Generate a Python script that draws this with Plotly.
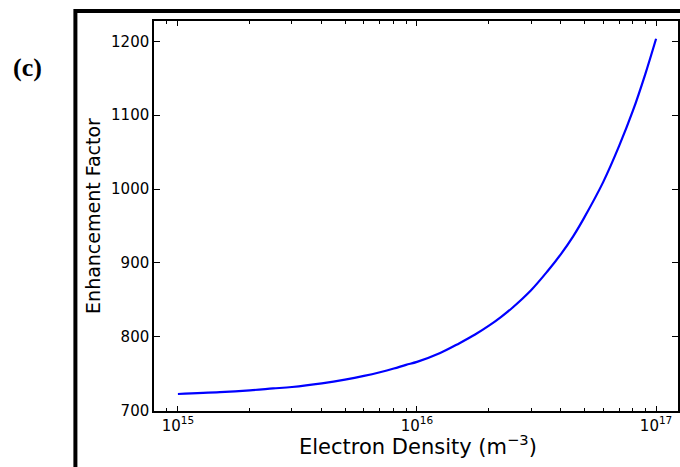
import plotly.graph_objects as go

# Data
electron_density = [1e15, 1.5e15, 2e15, 2.5e15, 3e15, 4e15, 5e15, 6e15, 7e15, 8e15, 9e15,
                    1e16, 1.25e16, 1.5e16, 1.75e16, 2e16, 2.25e16, 2.5e16, 3e16, 3.5e16,
                    4e16, 4.5e16, 5e16, 6e16, 7e16, 8e16, 9e16, 1e17]
enhancement = [722.5, 725, 727.5, 730, 732, 737, 742, 747, 752, 757, 762,
               766, 778, 791, 803, 815, 827, 839, 863, 888,
               912, 936, 961, 1009, 1058, 1106, 1155, 1203.5]

x_tickvals = [1e15, 1e16, 1e17]
x_ticktext = ["10<sup>15</sup>", "10<sup>16</sup>", "10<sup>17</sup>"]
x_minor = [m * 10 ** e for e in (14, 15, 16) for m in range(2, 10)]
y_tickvals = [700, 800, 900, 1000, 1100, 1200]
x_title = "Electron Density (m<sup>\u22123</sup>)"
y_title = "Enhancement Factor"
panel_label = "<b>(c)</b>"

fig = go.Figure()
fig.add_trace(go.Scatter(
    x=electron_density, y=enhancement, mode="lines",
    line=dict(color="#0000ff", width=2.2, shape="spline", smoothing=1),
    showlegend=False, hoverinfo="skip"))

tick_font = dict(family="DejaVu Sans", size=15, color="black")

fig.update_layout(
    width=680, height=467,
    margin=dict(l=154, r=0, t=21, b=56),
    paper_bgcolor="white", plot_bgcolor="white",
    xaxis=dict(
        type="log", range=[14.9, 17.0917],
        tickvals=x_tickvals, ticktext=x_ticktext,
        ticks="inside", ticklen=5, tickwidth=1.2, tickcolor="black",
        minor=dict(tickvals=x_minor, ticks="inside", ticklen=3, tickwidth=1, tickcolor="black"),
        showline=True, linecolor="black", linewidth=1.5, mirror="allticks",
        showgrid=False, zeroline=False, tickfont=tick_font,
    ),
    yaxis=dict(
        range=[699.5, 1227.5],
        tickvals=y_tickvals,
        ticks="inside", ticklen=6, tickwidth=1.2, tickcolor="black",
        showline=True, linecolor="black", linewidth=1.5, mirror="allticks",
        showgrid=False, zeroline=False, tickfont=tick_font,
        title=dict(text=y_title,
                   font=dict(family="DejaVu Sans", size=19, color="black"), standoff=5),
    ),
    shapes=[dict(type="rect", xref="paper", yref="paper",
                 x0=-0.150, x1=1.2, y0=-0.3, y1=1.0256,
                 line=dict(color="black", width=4), fillcolor="rgba(0,0,0,0)", layer="above")],
    annotations=[
        dict(text=panel_label, xref="paper", yref="paper",
             x=-0.241, y=0.88, xanchor="center", yanchor="middle", showarrow=False,
             font=dict(family="Liberation Serif", size=26, color="black")),
        dict(text=x_title, xref="paper", yref="paper",
             x=0.503, y=-0.088, xanchor="center", yanchor="middle", showarrow=False,
             font=dict(family="DejaVu Sans", size=21, color="black")),
    ],
)

fig.write_html("out.html", config={"displayModeBar": False},
               post_script="document.body.style.margin='0';")
